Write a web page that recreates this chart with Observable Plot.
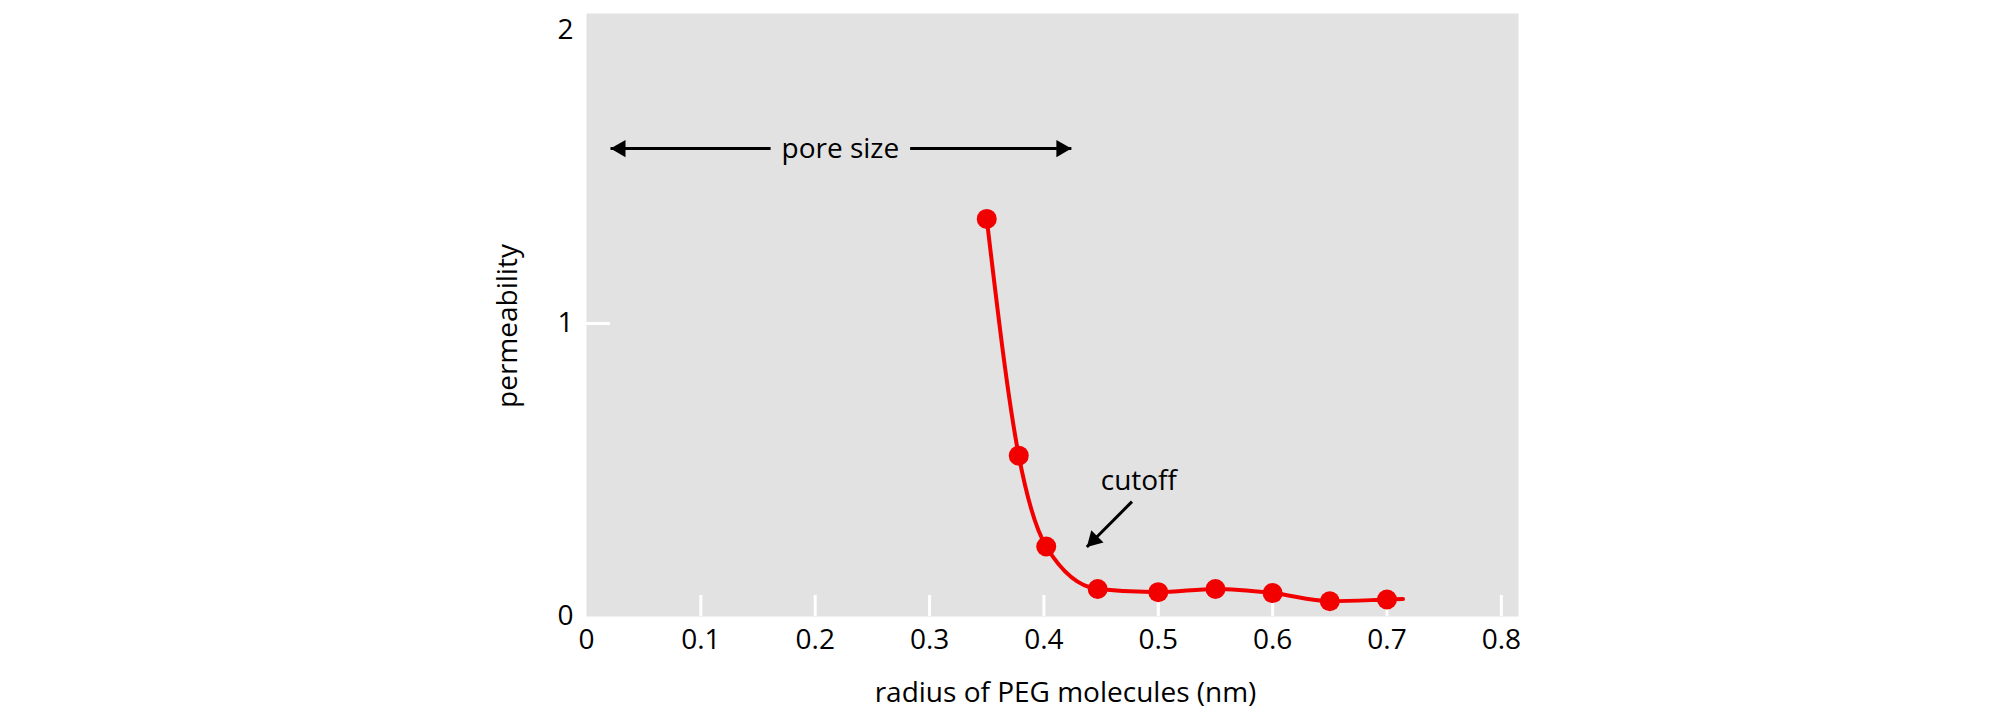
<!DOCTYPE html>
<html>
<head>
<meta charset="utf-8">
<script src="https://cdn.jsdelivr.net/npm/d3@7"></script>
<script src="https://cdn.jsdelivr.net/npm/@observablehq/plot@0.6"></script>
<style>
  html, body { margin: 0; padding: 0; background: #ffffff; }
  #chart { width: 1999px; height: 727px; }
</style>
</head>
<body>
<div id="chart"></div>
<script>
// ---- data ----
const xTicks = [0, 0.1, 0.2, 0.3, 0.4, 0.5, 0.6, 0.7, 0.8];
const yTicks = [0, 1, 2];
const xInnerTicks = [0.1, 0.2, 0.3, 0.4, 0.5, 0.6, 0.7, 0.8];
const yInnerTicks = [1];

// measured points (radius nm, permeability)
const radius = [0.35, 0.378, 0.402, 0.447, 0.5, 0.55, 0.6, 0.65, 0.7];
const permeability = [1.357, 0.549, 0.239, 0.094, 0.083, 0.094, 0.080, 0.052, 0.058];
// the drawn curve runs a little past the last point
const curveRadius = [...radius, 0.714];
const curvePerm = [...permeability, 0.060];

// labels
const xLabel = "radius of PEG molecules (nm)";
const yLabel = "permeability";
const poreText = "pore size";
const cutoffText = "cutoff";

// annotation positions (data units)
const poreY = 1.597;
const poreTextX = 0.222;
const poreLeftSeg = [0.161, 0.021];   // from text gap to left tip
const poreRightSeg = [0.283, 0.424];  // from text gap to right tip
const cutoffTextXY = [0.483, 0.464];
const cutoffTail = [0.477, 0.392];
const cutoffTip = [0.4375, 0.237];

// ---- layout ----
const W = 1999, H = 727;
const mL = 586, mR = 481, mT = 13, mB = 111;
const plotW = W - mL - mR, plotH = H - mT - mB;
const xDomain = [0, 0.815], yDomain = [0, 2.058];
const FONT = "'Open Sans', 'Noto Sans', sans-serif";
const RED = "#f20000";
const pxX = (xDomain[1] - xDomain[0]) / plotW;  // data units per pixel
const pxY = (yDomain[1] - yDomain[0]) / plotH;
const HEAD_BACK = 10; // px from tip to triangle centre

// ---- build tables ----
const points = radius.map((r, i) => ({r, p: permeability[i]}));
const curve = curveRadius.map((r, i) => ({r, p: curvePerm[i]}));
const arrowLinks = [
  {x1: poreLeftSeg[0], y1: poreY, x2: poreLeftSeg[1], y2: poreY},
  {x1: poreRightSeg[0], y1: poreY, x2: poreRightSeg[1], y2: poreY},
  {x1: cutoffTail[0], y1: cutoffTail[1], x2: cutoffTip[0], y2: cutoffTip[1]}
];
const diag = HEAD_BACK / Math.SQRT2;
const heads = [
  {x: poreLeftSeg[1] + HEAD_BACK * pxX, y: poreY, rot: -90},
  {x: poreRightSeg[1] - HEAD_BACK * pxX, y: poreY, rot: 90},
  {x: cutoffTip[0] + diag * pxX, y: cutoffTip[1] + diag * pxY, rot: 225}
];

const chart = Plot.plot({
  width: W,
  height: H,
  marginLeft: mL,
  marginRight: mR,
  marginTop: mT,
  marginBottom: mB,
  style: {fontFamily: FONT, fontSize: "28px", color: "#000", background: "#fff"},
  x: {domain: xDomain},
  y: {domain: yDomain},
  marks: [
    Plot.frame({fill: "#e2e2e2", stroke: null}),
    Plot.tickX(xInnerTicks, {x: d => d, stroke: "white", strokeWidth: 3, insetTop: plotH - 21}),
    Plot.tickY(yInnerTicks, {y: d => d, stroke: "white", strokeWidth: 3, insetRight: plotW - 24}),
    Plot.axisX({ticks: xTicks, tickSize: 0, tickPadding: 13, fontSize: 28, label: null, tickFormat: d => String(d)}),
    Plot.axisY({ticks: yTicks, tickSize: 0, tickPadding: 13, fontSize: 28, label: null, tickFormat: d => String(d)}),
    Plot.line(curve, {x: "r", y: "p", stroke: RED, strokeWidth: 4, curve: "monotone-x"}),
    Plot.dot(points, {x: "r", y: "p", r: 10, fill: RED, stroke: null}),
    Plot.link(arrowLinks, {x1: "x1", y1: "y1", x2: "x2", y2: "y2", stroke: "black", strokeWidth: 3}),
    Plot.dot(heads, {x: "x", y: "y", symbol: "triangle", r: 6.4, fill: "black", stroke: null, rotate: "rot"}),
    Plot.text([poreText], {x: poreTextX, y: poreY, text: d => d, fontSize: 28, fill: "black", textAnchor: "middle", lineAnchor: "middle"}),
    Plot.text([cutoffText], {x: cutoffTextXY[0], y: cutoffTextXY[1], text: d => d, fontSize: 28, fill: "black", textAnchor: "middle", lineAnchor: "middle"}),
    Plot.text([xLabel], {frameAnchor: "bottom", text: d => d, fontSize: 28, fill: "black", textAnchor: "middle", lineAnchor: "middle", dx: 13, dy: 77}),
    Plot.text([yLabel], {frameAnchor: "left", text: d => d, fontSize: 28, fill: "black", textAnchor: "middle", lineAnchor: "middle", rotate: -90, dx: -78, dy: 11})
  ]
});
document.getElementById("chart").appendChild(chart);
</script>
</body>
</html>
